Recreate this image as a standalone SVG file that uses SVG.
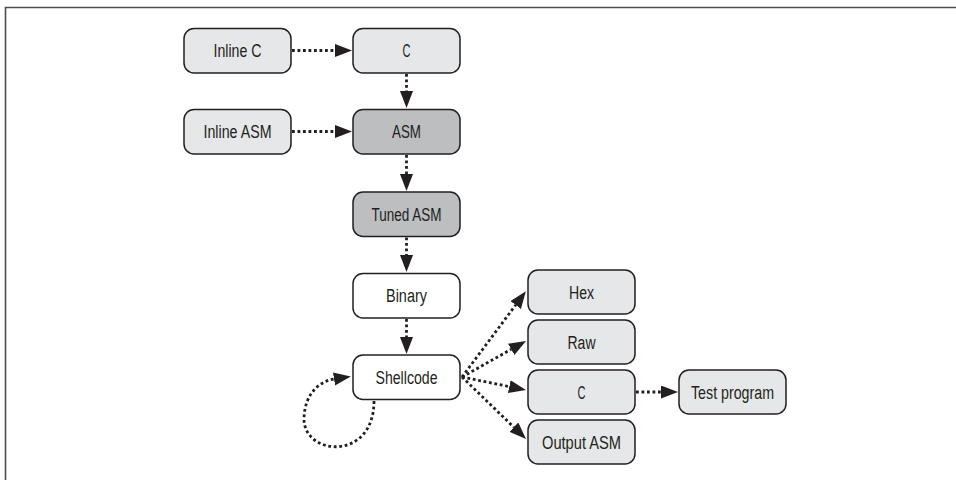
<svg xmlns="http://www.w3.org/2000/svg" width="956" height="480" viewBox="0 0 956 480">
<style>
.box{stroke:#231f20;stroke-width:1.5}
.light{fill:#e6e7e8}
.dark{fill:#bcbec0}
.white{fill:#ffffff}
.lbl{font-family:"Liberation Sans",Arial,sans-serif;font-size:18px;fill:#231f20;text-anchor:middle}
.con{fill:none;stroke:#231f20;stroke-width:2.8;stroke-dasharray:2.8 2.7}
</style>
<defs>
<marker id="ah" markerUnits="userSpaceOnUse" markerWidth="18" markerHeight="14" refX="0" refY="6.5" orient="auto">
<path d="M0,0 L17,6.5 L0,13 z" fill="#231f20"/>
</marker>
</defs>
<rect width="956" height="480" fill="#ffffff"/>
<path d="M5.5,480 V7.5 H956" fill="none" stroke="#4d4d4d" stroke-width="1.6"/>

<g id="inline-c"><rect class="box light" x="184" y="28.5" width="107" height="44.5" rx="10"/><text class="lbl" x="237.5" y="57" textLength="48" lengthAdjust="spacingAndGlyphs">Inline C</text></g>
<g id="c-top"><rect class="box light" x="353" y="28.5" width="107" height="44.5" rx="10"/><text class="lbl" x="406.5" y="57" textLength="8" lengthAdjust="spacingAndGlyphs">C</text></g>
<g id="inline-asm"><rect class="box light" x="184" y="109.5" width="107" height="44.5" rx="10"/><text class="lbl" x="237.5" y="138" textLength="68" lengthAdjust="spacingAndGlyphs">Inline ASM</text></g>
<g id="asm"><rect class="box dark" x="353" y="109.5" width="107" height="44.5" rx="10"/><text class="lbl" x="406.5" y="138" textLength="29" lengthAdjust="spacingAndGlyphs">ASM</text></g>
<g id="tuned-asm"><rect class="box dark" x="353" y="192" width="107" height="44.5" rx="10"/><text class="lbl" x="406.5" y="220.5" textLength="70" lengthAdjust="spacingAndGlyphs">Tuned ASM</text></g>
<g id="binary"><rect class="box white" x="353" y="273.5" width="107" height="44.5" rx="10"/><text class="lbl" x="406.5" y="302" textLength="41" lengthAdjust="spacingAndGlyphs">Binary</text></g>
<g id="shellcode"><rect class="box white" x="353" y="355" width="107" height="44.5" rx="10"/><text class="lbl" x="406.5" y="383.5" textLength="62" lengthAdjust="spacingAndGlyphs">Shellcode</text></g>
<g id="hex"><rect class="box light" x="528" y="270" width="107" height="44" rx="10"/><text class="lbl" x="581.5" y="298.5" textLength="25" lengthAdjust="spacingAndGlyphs">Hex</text></g>
<g id="raw"><rect class="box light" x="528" y="320" width="107" height="44" rx="10"/><text class="lbl" x="581.5" y="348.5" textLength="28" lengthAdjust="spacingAndGlyphs">Raw</text></g>
<g id="c-out"><rect class="box light" x="528" y="370" width="107" height="44" rx="10"/><text class="lbl" x="581.5" y="398.5" textLength="8" lengthAdjust="spacingAndGlyphs">C</text></g>
<g id="output-asm"><rect class="box light" x="528" y="420" width="107" height="44" rx="10"/><text class="lbl" x="581.5" y="448.5" textLength="79" lengthAdjust="spacingAndGlyphs">Output ASM</text></g>
<g id="test-program"><rect class="box light" x="679" y="370" width="107" height="44" rx="10"/><text class="lbl" x="732.5" y="398.5" textLength="83" lengthAdjust="spacingAndGlyphs">Test program</text></g>

<g id="connectors">
<path class="con" d="M292,50.5 H335" marker-end="url(#ah)"/>
<path class="con" d="M292,131.5 H335" marker-end="url(#ah)"/>
<path class="con" d="M406.5,74 V91" marker-end="url(#ah)"/>
<path class="con" d="M406.5,155 V174" marker-end="url(#ah)"/>
<path class="con" d="M406.5,237.5 V255" marker-end="url(#ah)"/>
<path class="con" d="M406.5,319 V337" marker-end="url(#ah)"/>
<path class="con" d="M462,377 L515.7,305" marker-end="url(#ah)"/>
<path class="con" d="M462,377 L511.2,349.3" marker-end="url(#ah)"/>
<path class="con" d="M462,377 L509.3,386.6" marker-end="url(#ah)"/>
<path class="con" d="M462,377 L513.8,427.2" marker-end="url(#ah)"/>
<path class="con" d="M636,392 H661" marker-end="url(#ah)"/>
<path class="con" d="M374,401 C374,462 303,456 304,418 C305,392 321,381 334,379" marker-end="url(#ah)"/>
</g>
</svg>
